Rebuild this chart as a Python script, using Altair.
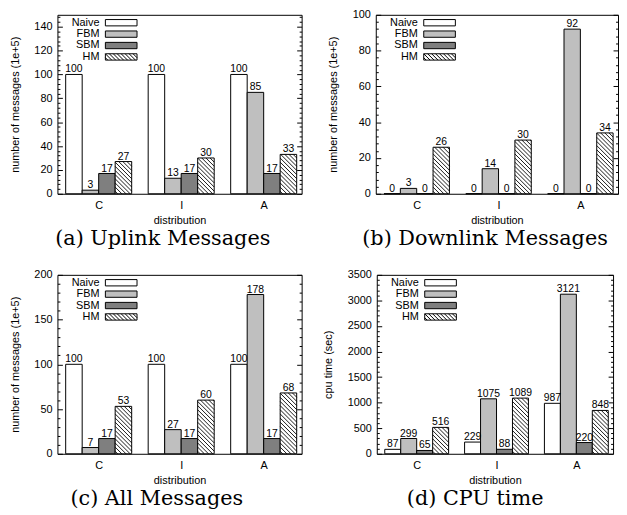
import json
import altair as alt
import pandas as pd

# ---------------- data ----------------
categories = ["C", "I", "A"]
series = ["Naive", "FBM", "SBM", "HM"]
series_fill = ["#ffffff", "#bfbfbf", "#7f7f7f", "#ffffff"]

uplink_naive = [100, 100, 100]
uplink_fbm = [3, 13, 85]
uplink_sbm = [17, 17, 17]
uplink_hm = [27, 30, 33]

downlink_naive = [0, 0, 0]
downlink_fbm = [3, 14, 92]
downlink_sbm = [0, 0, 0]
downlink_hm = [26, 30, 34]

all_naive = [100, 100, 100]
all_fbm = [7, 27, 178]
all_sbm = [17, 17, 17]
all_hm = [53, 60, 68]

cpu_naive = [87, 229, 987]
cpu_fbm = [299, 1075, 3121]
cpu_sbm = [65, 88, 220]
cpu_hm = [516, 1089, 848]

captions = ["(a) Uplink Messages", "(b) Downlink Messages", "(c) All Messages", "(d) CPU time"]
y_titles = ["number of messages (1e+5)", "number of messages (1e+5)",
            "number of messages (1e+5)", "cpu time (sec)"]
x_title = "distribution"

# ---------------- style ----------------
SANS = "Liberation Sans"
SERIF = "DejaVu Serif"
XMIN, XMAX = -0.5, 2.46
BAR_W = 0.2
HATCH_STEP = 4.2


def rect_path(hatch):
    p = "M-4,-0.8H4V0.8H-4Z"
    if hatch:
        x0 = -5.6 + 0.6
        while x0 < 4:
            xs = max(x0, -4.0)
            xe = min(x0 + 1.6, 4.0)
            if xe > xs:
                ys = -0.8 + (xs - x0)
                ye = -0.8 + (xe - x0)
                p += f"M{xs:.2f},{ys:.2f}L{xe:.2f},{ye:.2f}"
            x0 += 1.0
    return p


shape_range = [rect_path(False), rect_path(False), rect_path(False), rect_path(True)]
label_expr_x = "[" + ",".join(json.dumps(c) for c in categories) + "][datum.value]"


def panel(vals, ymax, step, minor, ytitle, caption, width, height, cap_dx):
    rows = []
    for si, s in enumerate(series):
        for gi, c in enumerate(categories):
            v = vals[si][gi]
            x0 = gi - 2 * BAR_W + BAR_W * si
            rows.append(dict(category=c, series=s, value=v, base=0,
                             x0=x0, x1=x0 + BAR_W, xm=x0 + BAR_W / 2, label=str(v)))
    df = pd.DataFrame(rows)
    key_df = pd.DataFrame({"series": series})

    # hatch lines for the HM bars (45 degree in pixel space)
    ppx = width / (XMAX - XMIN)
    ppy = height / ymax
    hrows = []
    for gi, c in enumerate(categories):
        v = vals[3][gi]
        bx0 = gi - 2 * BAR_W + BAR_W * 3
        w = BAR_W * ppx
        h = v * ppy
        cc = HATCH_STEP * 0.6
        while cc < w + h:
            xa = max(0.0, cc - h)
            xb = min(w, cc)
            if xb > xa:
                hrows.append(dict(hx0=bx0 + xa / ppx, hy0=(cc - xa) / ppy,
                                  hx1=bx0 + xb / ppx, hy1=(cc - xb) / ppy))
            cc += HATCH_STEP
    hdf = pd.DataFrame(hrows)

    xs = alt.Scale(domain=[XMIN, XMAX], nice=False, zero=False)
    ys = alt.Scale(domain=[0, ymax], nice=False, zero=True)
    xaxis = alt.Axis(values=[0, 1, 2], labelExpr=label_expr_x, ticks=False, domain=False,
                     grid=False, title=x_title, labelPadding=6, titlePadding=4,
                     labelAngle=0)
    tick_vals = [i * minor for i in range(int(round(ymax / minor)) + 1)]
    tick_cond = {"condition": {"test": f"datum.value % {step} === 0", "value": -5},
                 "value": -2.5}
    lab_expr = f"datum.value % {step} === 0 ? datum.label : ''"
    yaxis_left = alt.Axis(values=tick_vals, labelExpr=lab_expr, tickSize=tick_cond,
                          format="d", domain=False, grid=False, title=ytitle,
                          labelPadding=10.5, titlePadding=14, orient="left")
    yaxis_right = alt.Axis(values=tick_vals, labels=False, tickSize=tick_cond,
                           domain=False, grid=False, title=None, orient="right")
    fill_scale = alt.Scale(domain=series, range=series_fill)
    shape_scale = alt.Scale(domain=series, range=shape_range)
    key_y = alt.Scale(domain=series, range=[8, 42.6], padding=0)

    bars = alt.Chart(df).mark_rect(stroke="black", strokeWidth=1).encode(
        x=alt.X("x0:Q", scale=xs, axis=xaxis),
        x2="x1:Q",
        y=alt.Y("value:Q", scale=ys, axis=yaxis_left),
        y2="base:Q",
        fill=alt.Fill("series:N", scale=fill_scale, legend=None),
    )
    hatch = alt.Chart(hdf).mark_rule(color="black", strokeWidth=0.9).encode(
        x=alt.X("hx0:Q", scale=xs, axis=xaxis),
        x2="hx1:Q",
        y=alt.Y("hy0:Q", scale=ys, axis=None),
        y2="hy1:Q",
    )
    texts = alt.Chart(df).mark_text(font=SANS, fontSize=10.5, color="black",
                                    baseline="alphabetic", dy=-2).encode(
        x=alt.X("xm:Q", scale=xs, axis=xaxis),
        y=alt.Y("value:Q", scale=ys, axis=yaxis_right),
        text="label:N",
    )
    key_sym = alt.Chart(key_df).mark_point(
        filled=True, opacity=1, size=64, stroke="black", strokeWidth=1).encode(
        x=alt.value(64.5),
        y=alt.Y("series:N", scale=key_y, axis=None, sort=series),
        fill=alt.Fill("series:N", scale=fill_scale, legend=None),
        shape=alt.Shape("series:N", scale=shape_scale, legend=None),
    )
    key_txt = alt.Chart(key_df).mark_text(
        font=SANS, fontSize=11, color="black", align="right", baseline="middle").encode(
        x=alt.value(42.5),
        y=alt.Y("series:N", scale=key_y, axis=None, sort=series),
        text="series:N",
    )
    return alt.layer(bars, hatch, texts, key_sym, key_txt).resolve_scale(
        y="independent").resolve_axis(y="independent").properties(
        width=width, height=height,
        title=alt.TitleParams(caption, orient="bottom", font=SERIF, fontSize=21,
                              fontWeight="normal", color="black", anchor="middle",
                              offset=3, dx=cap_dx),
    )


pa = panel([uplink_naive, uplink_fbm, uplink_sbm, uplink_hm], 150, 20, 4,
           y_titles[0], captions[0], 247, 181, -17)
pb = panel([downlink_naive, downlink_fbm, downlink_sbm, downlink_hm], 100, 20, 4,
           y_titles[1], captions[1], 245, 181, -12)
pc = panel([all_naive, all_fbm, all_sbm, all_hm], 200, 50, 10,
           y_titles[2], captions[2], 247, 181, -23)
pd_ = panel([cpu_naive, cpu_fbm, cpu_sbm, cpu_hm], 3500, 500, 100,
            y_titles[3], captions[3], 239, 181, -20)

top = alt.hconcat(pa, pb, spacing=24)
bottom = alt.hconcat(pc, pd_, spacing=19)

chart = alt.vconcat(top, bottom, spacing=18).properties(
    padding={"left": 0, "top": -3, "right": 0, "bottom": 0}
).configure_view(
    stroke="black", strokeWidth=1
).configure_axis(
    labelFont=SANS, titleFont=SANS, labelFontSize=11, titleFontSize=11,
    titleFontWeight="normal", labelColor="black", titleColor="black",
    tickColor="black", tickWidth=1
)

chart.save("out.html", embed_options={"renderer": "svg", "actions": False})
